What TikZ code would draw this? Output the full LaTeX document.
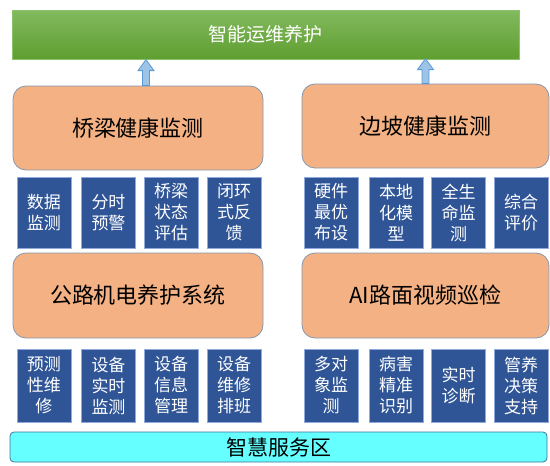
\documentclass[tikz,border=0pt]{standalone}
\usepackage{fontspec}
\setmainfont{Noto Sans CJK SC}
\usetikzlibrary{positioning,calc}

\definecolor{barGreenTop}{HTML}{82BA5E}
\definecolor{barGreenBot}{HTML}{5F9E30}
\definecolor{barGreenLine}{HTML}{8CC36A}
\definecolor{sysOrange}{HTML}{F4B183}
\definecolor{sysLine}{HTML}{8497B0}
\definecolor{itemBlue}{HTML}{2F5597}
\definecolor{itemLine}{HTML}{8FAADC}
\definecolor{arrFill}{HTML}{9DC3E6}
\definecolor{arrLine}{HTML}{5B9BD5}
\definecolor{baseCyan}{HTML}{66FFFF}
\definecolor{baseLine}{HTML}{41719C}

\tikzset{
  sysbox/.style={draw=sysLine, fill=sysOrange, rounded corners=13pt, line width=0.8pt,
    minimum width=250pt, minimum height=84pt, inner sep=0pt,
    font=\fontsize{22}{26}\selectfont},
  itembox/.style={draw=itemLine, fill=itemBlue, line width=0.6pt, text=white,
    minimum width=54pt, inner sep=0pt, align=center,
    font=\fontsize{17}{21}\selectfont},
  uparrow/.style={draw=arrLine, fill=arrFill, line width=0.8pt, line join=miter}
}

\begin{document}
\begin{tikzpicture}[x=1pt,y=-1pt]
  \useasboundingbox (0,0) rectangle (550,466);

  % top layer
  \node[draw=barGreenLine, top color=barGreenTop, bottom color=barGreenBot,
        minimum width=507pt, minimum height=49pt, inner sep=0pt, text=white,
        font=\fontsize{19}{22}\selectfont] (top) at (265.5,34.5) {智能运维养护};

  % systems
  \node[sysbox] (bridge) at (138,128) {桥梁健康监测};
  \node[sysbox, minimum width=247pt] (slope) at (425.5,126) {边坡健康监测};
  \node[sysbox, minimum height=85pt] (road) at (138,295.5) {公路机电养护系统};
  \node[sysbox, minimum width=247pt, minimum height=85pt] (aiv) at (425.5,295.5) {AI路面视频巡检};

  % block arrows up to the top layer
  \draw[uparrow] ($(bridge.north)+(4.5,0)$) -- ++(7,0) -- ++(0,-15) -- ++(4.5,0)
    -- ++(-8,-11) -- ++(-8,11) -- ++(4.5,0) -- cycle;
  \draw[uparrow] ($(slope.north)+(-3.5,0)$) -- ++(7,0) -- ++(0,-14) -- ++(4.5,0)
    -- ++(-8,-11) -- ++(-8,11) -- ++(4.5,0) -- cycle;

  % items of each system
  \foreach \x/\nm/\txt in {44/b1/数据\\监测, 108.5/b2/分时\\预警, 171/b3/桥梁\\状态\\评估, 234/b4/闭环\\式反\\馈,
      331/s1/硬件\\最优\\布设, 396/s2/本地\\化模\\型, 458.5/s3/全生\\命监\\测, 521/s4/综合\\评价}
    \node[itembox, minimum height=71pt] (\nm) at (\x,212.5) {\txt};

  \foreach \x/\nm/\txt in {44/r1/预测\\性维\\修, 108.5/r2/设备\\实时\\监测, 171/r3/设备\\信息\\管理, 234/r4/设备\\维修\\排班,
      331/a1/多对\\象监\\测, 396/a2/病害\\精准\\识别, 458.5/a3/实时\\诊断, 521/a4/管养\\决策\\支持}
    \node[itembox, minimum height=73pt] (\nm) at (\x,385.5) {\txt};

  % base layer
  \node[draw=baseLine, fill=baseCyan, rounded corners=4pt, line width=0.8pt,
        minimum width=537pt, minimum height=30pt, inner sep=0pt,
        font=\fontsize{21}{24}\selectfont] (base) at (278.5,447) {智慧服务区};
\end{tikzpicture}
\end{document}
